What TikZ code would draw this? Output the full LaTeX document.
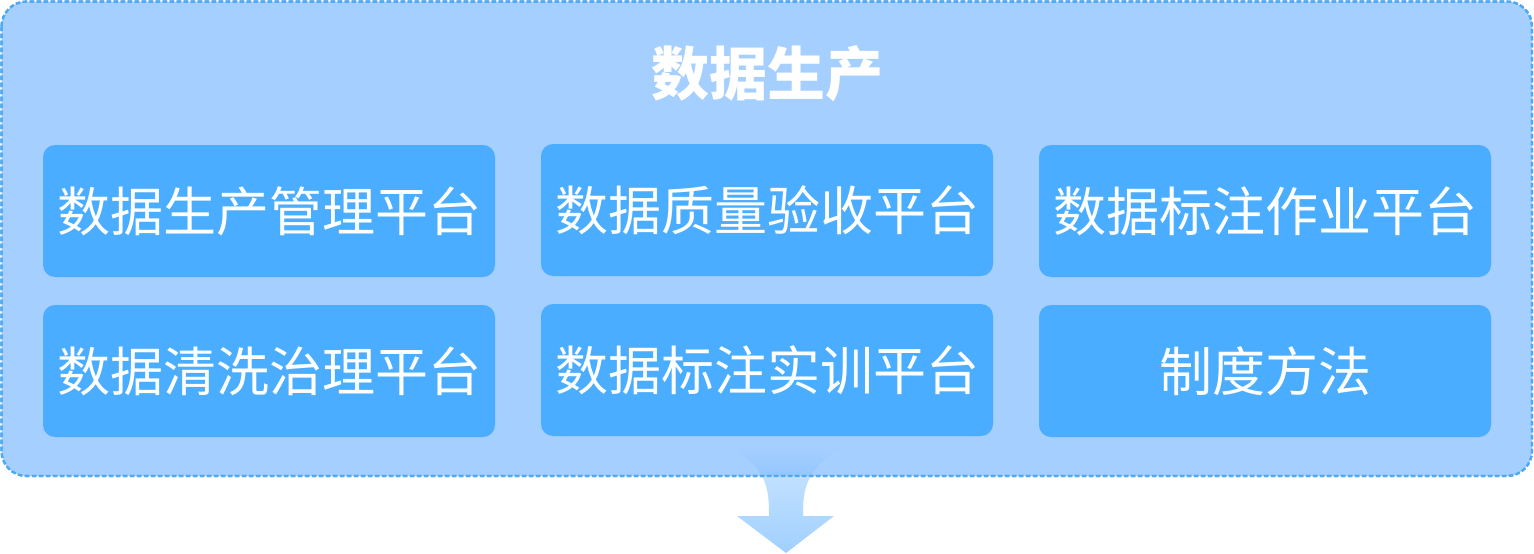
\documentclass[tikz,border=0pt]{standalone}
\usepackage{fontspec}
\setmainfont{Noto Sans CJK SC}
\usetikzlibrary{fadings}
\definecolor{outerfill}{RGB}{165,207,255}
\definecolor{innerfill}{RGB}{74,173,255}
\definecolor{dashcol}{RGB}{77,168,245}
\definecolor{arrowlight}{RGB}{205,230,255}
\definecolor{arrowdark}{RGB}{160,208,255}
\definecolor{arrowin}{RGB}{125,188,255}
\tikzfading[name=fadetop, top color=transparent!100, bottom color=transparent!0]
\tikzset{
  dashline/.style={draw=dashcol, line width=2.2pt, dash pattern=on 4.5pt off 2.5pt, rounded corners=25pt},
  outerbox/.style={fill=outerfill, dashline},
  platform/.style={fill=innerfill, rounded corners=12pt, minimum width=452pt, minimum height=132pt, inner sep=0pt, text=white, font=\fontsize{53}{60}\selectfont},
  titletext/.style={text=white, font=\fontsize{58}{66}\selectfont\bfseries, inner sep=0pt}
}
\begin{document}
\begin{tikzpicture}[x=1pt,y=-1pt]
\useasboundingbox (0,0) rectangle (1534,554);
% outer container
\path[outerbox] (1.5,1.5) rectangle (1532,476);
\node[titletext] (title) at (767,74) {数据生产};
% arrow part inside the container
\begin{scope}
\clip (700,440) rectangle (870,476);
\fill[arrowin, path fading=fadetop] (733,448) .. controls (768,470) and (769,490) .. (769,516) -- (803,516) .. controls (803,490) and (805,470) .. (840,448) -- cycle;
\end{scope}
% arrow part below the container
\begin{scope}
\clip (700,477.2) rectangle (870,554);
\shade[top color=arrowlight, bottom color=arrowdark] (733,448) .. controls (768,470) and (769,490) .. (769,516) -- (737,516) -- (786,553) -- (834,516) -- (803,516) .. controls (803,490) and (805,470) .. (840,448) -- cycle;
\end{scope}
% redraw dashed border over the arrow
\path[dashline] (1.5,1.5) rectangle (1532,476);
% platforms
\node[platform] (p1) at (269,211) {数据生产管理平台};
\node[platform] (p2) at (767,210) {数据质量验收平台};
\node[platform] (p3) at (1265,211) {数据标注作业平台};
\node[platform] (p4) at (269,371) {数据清洗治理平台};
\node[platform] (p5) at (767,370) {数据标注实训平台};
\node[platform] (p6) at (1265,371) {制度方法};
\end{tikzpicture}
\end{document}
